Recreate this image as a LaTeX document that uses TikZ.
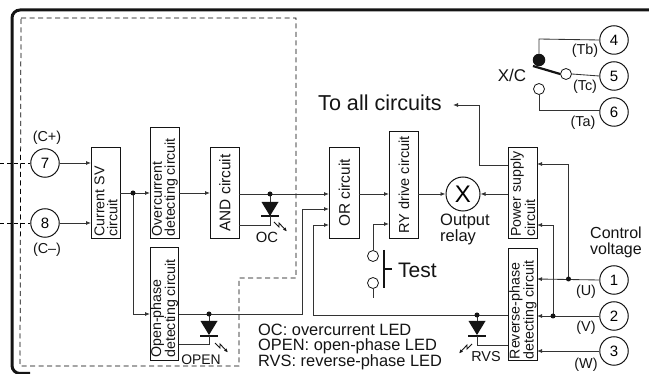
\documentclass[tikz,border=0pt]{standalone}
\usepackage{fontspec}
\setmainfont{Liberation Sans}
\usetikzlibrary{arrows.meta}
\definecolor{ink}{gray}{0.08}
\definecolor{wire}{gray}{0.2}
\newcommand{\fs}[1]{\fontsize{#1}{#1}\selectfont}
\tikzset{
  x=1pt,y=-1pt,
  blockbox/.style={draw=ink,line width=0.9pt,fill=white,inner sep=0pt,anchor=north west,align=center},
  term/.style={circle,draw=ink,line width=1pt,fill=white,minimum size=28.5pt,inner sep=0pt,font=\fs{15}},
  contact/.style={circle,draw=ink,line width=0.8pt,fill=white,minimum size=11pt,inner sep=0pt},
  wire/.style={draw=wire,line width=0.85pt},
  flow/.style={wire,-{Latex[length=5pt,width=4pt]}},
  junction/.style={circle,fill=ink,minimum size=5pt,inner sep=0pt},
  label/.style={inner sep=0pt,font=\fs{14.4},text=ink},
  legend/.style={inner sep=0pt,font=\fs{16.4},text=ink,anchor=base west},
  boxtext/.style={rotate=90,align=left,font=\fontsize{14.2}{13}\selectfont,inner sep=0pt,text=ink,anchor=west},
  boxcentre/.style={rotate=90,align=center,font=\fontsize{15.4}{15}\selectfont,inner sep=0pt,text=ink},
  led/.style={fill=ink,draw=none},
  ledbar/.style={draw=ink,line width=2pt},
  flash/.style={draw=ink,line width=0.9pt,-{Latex[length=4pt,width=3.5pt]}},
  ltext/.style={inner sep=0pt,text=ink,align=left,anchor=north west,font=\fontsize{16.5}{15.5}\selectfont},
}
\newcommand{\flashmark}[3]{% x y dir
  \draw[flash] (#1,#2) -- ++(#3*5,5) -- ++(0,-4) -- ++(#3*8,8.5);
}
\begin{document}
\begin{tikzpicture}
\useasboundingbox (0,0) rectangle (649,374);
\fill[white] (0,0) rectangle (649,374);
% outer case
\draw[ink,line width=3pt,rounded corners=8pt] (649,10) -- (12,10) -- (12,373.5) -- (30,373.5);
% dashed outline
\draw[black,line width=0.75pt,dash pattern=on 5pt off 3.5pt] (21,18) -- (296,18) -- (296,278) -- (239,278) -- (239,366) -- (20,366) -- cycle;
% terminals
\node[term] (t7) at (45,163) {7};
\node[term] (t8) at (45,223) {8};
\node[term] (t4) at (614,40) {4};
\node[term] (t5) at (614,76) {5};
\node[term] (t6) at (614,112) {6};
\node[term] (t1) at (614,280) {1};
\node[term] (t2) at (614,316) {2};
\node[term] (t3) at (614,351) {3};
\node[circle,draw=ink,line width=1pt,fill=white,minimum size=34pt,inner sep=0pt,font=\fs{24}] (relay) at (463,194) {X};
% blocks
\node[blockbox,minimum width=29pt,minimum height=91pt] (sv) at (91,147) {};
\node[boxtext] at ([yshift=2pt]sv.south) {Current SV\\circuit};
\node[blockbox,minimum width=29pt,minimum height=111pt] (oc) at (150,127) {};
\node[boxtext] at ([yshift=2pt]oc.south) {Overcurrent\\detecting circuit};
\node[blockbox,minimum width=29pt,minimum height=91pt] (and) at (210,147) {};
\node[boxcentre] at (and.center) {AND circuit};
\node[blockbox,minimum width=30pt,minimum height=91pt] (or) at (329,147) {};
\node[boxcentre] at (or.center) {OR circuit};
\node[blockbox,minimum width=29pt,minimum height=107pt] (ry) at (389,131) {};
\node[boxcentre,font=\fs{14.5}] at (ry.center) {RY drive circuit};
\node[blockbox,minimum width=29pt,minimum height=91pt] (ps) at (508,147) {};
\node[boxtext] at ([yshift=2pt]ps.south) {Power supply\\circuit};
\node[blockbox,minimum width=29pt,minimum height=112pt] (rp) at (508,248) {};
\node[boxtext] at ([yshift=1.5pt]rp.south) {Reverse-phase\\detecting circuit};
\node[blockbox,minimum width=28pt,minimum height=113pt] (op) at (150,247) {};
\node[boxtext] at ([yshift=3pt]op.south) {Open-phase\\detecting circuit};
% helper coordinates
\coordinate (svout) at (120,193);
\coordinate (jsv) at (133,193);
\coordinate (joc) at (270,194);
\coordinate (jop) at (209,314);
\coordinate (jrv) at (477,315);
\coordinate (j1) at (568.5,279);
\coordinate (j2) at (553,316);
\coordinate (in7) at (0,163);
\coordinate (in8) at (0,223);
% inputs
\draw[black,line width=0.7pt,dash pattern=on 4pt off 3pt] (in7) -- (t7.west);
\draw[black,line width=0.7pt,dash pattern=on 4pt off 3pt] (in8) -- (t8.west);
\draw[flow] (t7.east) -- (91,163);
\draw[flow] (t8.east) -- (91,223);
\draw[flow] (svout) -- (150,193);
\draw[flow] (jsv) |- (150,314);
\draw[flow] (178.5,193) -- (210,193);
\draw[flow] (239,194) -- (329,194);
\draw[flow] (178.5,314) -- (302,314) -- (302,209) -- (329,209);
\draw[flow] (508,315) -- (313,315) -- (313,225) -- (329,225);
\draw[flow] (359,194) -- (389,194);
\draw[flow] (418,194) -- (relay.west);
\draw[flow] (508,194) -- (relay.east);
% to all circuits
\draw[flow] (508,165) -- (479,165) -- (479,105) -- (453,105);
\node[inner sep=0pt,font=\fs{21.6},text=ink,anchor=west] (toall) at (318,103) {To all circuits};
% power
\draw[flow] (j1) -- (568.5,164) -- (537,164);
\draw[flow] (j2) -- (553,225) -- (537,225);
\draw[flow] (t1.west) -- (537,279);
\draw[flow] (t2.west) -- (537,316);
\draw[flow] (t3.west) -- (537,351);
% LEDs
\draw[wire] (joc) -- (270,202);
\fill[led] (261.5,202) -- (278.5,202) -- (270,216) -- cycle;
\draw[ledbar] (261,216.5) -- (279,216.5);
\draw[wire] (270,216) -- (270,225) -- (239,225);
\flashmark{274}{222}{1}
\draw[wire] (jop) -- (209,321);
\fill[led] (200.5,321) -- (217.5,321) -- (209,335) -- cycle;
\draw[ledbar] (200,336) -- (218,336);
\draw[wire] (209,336) -- (209,344) -- (178.5,344);
\flashmark{215}{343}{1}
\draw[wire] (jrv) -- (477,321);
\fill[led] (468.5,321) -- (485.5,321) -- (477,335) -- cycle;
\draw[ledbar] (468,336) -- (486,336);
\draw[wire] (477,336) -- (477,345) -- (508,345);
\flashmark{472}{344}{-1}
% junctions
\node[junction] at (jsv) {};
\node[junction] at (joc) {};
\node[junction] at (jop) {};
\node[junction] at (jrv) {};
\node[junction] at (j1) {};
\node[junction] at (j2) {};
% test switch
\node[contact] (ta) at (373,256) {};
\node[contact] (tb) at (373,283) {};
\coordinate (tend) at (373,298);
\draw[flow] (ta.north) -- (373,224) -- (389,224);
\draw[wire] (tb.south) -- (tend);
\draw[ink,line width=2.6pt] (384,250) -- (384,288);
\draw[ink,line width=2pt] (384,269) -- (392,269);
\node[inner sep=0pt,font=\fs{21},text=ink,anchor=west] at (398,270) {Test};
% X/C contacts
\node[contact] (c5) at (566,74) {};
\node[contact] (c6) at (539,89) {};
\node[circle,fill=ink,minimum size=12.5pt,inner sep=0pt] (c4) at (539,60) {};
\draw[wire] (t4.west) -- (539,39) -- (c4.north);
\draw[wire] (c5.east) -- (t5.west);
\draw[wire] (c6.south) -- (539,110) -- (600,110);
\draw[ink,line width=2.2pt] (533,66) -- (c5.west);
\node[inner sep=0pt,font=\fs{17},text=ink] at (512,75) {X/C};
% labels
\node[label] at (47,138) {(C+)};
\node[label] at (47,250) {(C–)};
\node[label] at (585,51) {(Tb)};
\node[label] at (585,87) {(Tc)};
\node[label] at (583,123) {(Ta)};
\node[label] at (586,292) {(U)};
\node[label] at (586,328) {(V)};
\node[label] at (586,365) {(W)};
\node[label,font=\fs{14.8}] at (267,237) {OC};
\node[label,font=\fs{13.9}] at (201,360) {OPEN};
\node[label] at (486,357) {RVS};
\node[ltext] at (440,214) {Output\\relay};
\node[ltext,font=\fontsize{16}{15.5}\selectfont] at (590,227) {Control\\voltage};
\node[legend] at (258,335.5) {OC: overcurrent LED};
\node[legend] at (258,351) {OPEN: open-phase LED};
\node[legend] at (258,367) {RVS: reverse-phase LED};
\end{tikzpicture}
\end{document}
